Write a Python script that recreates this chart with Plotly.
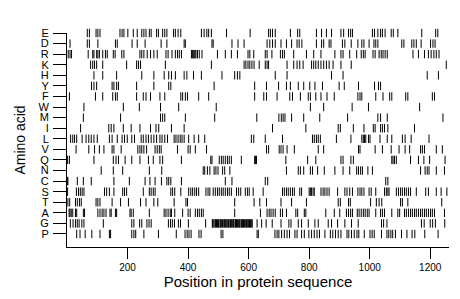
import plotly.graph_objects as go

# Amino acids, top to bottom as shown
amino_acids = ["E", "D", "R", "K", "H", "Y", "F", "W", "M", "I",
               "L", "V", "Q", "N", "C", "S", "T", "A", "G", "P"]

pos_E = [67, 74, 96, 102, 109, 175, 182, 188, 201, 219, 232, 247, 254, 261, 272, 278, 296, 302, 316, 323, 330,
         352, 358, 367, 376, 444, 453, 462, 468, 477, 527, 605, 666, 672, 679, 688, 738, 762, 769, 824, 841, 857,
         874, 905, 914, 930, 937, 943, 1009, 1016, 1027, 1036, 1042, 1051, 1071, 1078, 1093, 1172, 1218, 1225]
pos_D = [10, 67, 74, 102, 160, 166, 215, 232, 258, 311, 330, 387, 391, 479, 483, 545, 565, 585, 661, 670, 679,
         688, 707, 725, 742, 760, 767, 776, 824, 841, 848, 866, 872, 910, 918, 939, 961, 974, 981, 998, 1014,
         1020, 1027, 1106, 1113, 1139, 1146, 1154, 1170, 1201, 1209, 1216]
pos_R = [4, 10, 15, 70, 85, 89, 98, 102, 107, 118, 127, 133, 153, 159, 181, 188, 241, 247, 254, 265, 276, 287,
         298, 327, 334, 347, 358, 365, 371, 378, 411, 414, 417, 420, 423, 426, 431, 437, 446, 497, 523, 543, 563,
         598, 604, 617, 655, 661, 677, 705, 712, 718, 749, 791, 815, 839, 885, 905, 912, 934, 957, 972, 979, 985,
         1011, 1018, 1031, 1038, 1044, 1051, 1058, 1143, 1161, 1181, 1194, 1203, 1212, 1220, 1229]
pos_K = [78, 85, 91, 98, 118, 197, 230, 236, 243, 325, 477, 585, 591, 598, 604, 611, 618, 635, 655, 661, 666,
         727, 749, 760, 769, 780, 808, 815, 822, 830, 839, 848, 857, 866, 879, 905, 939, 1253]
pos_H = [89, 118, 164, 247, 287, 321, 336, 345, 358, 387, 396, 418, 444, 512, 554, 563, 571, 688, 727, 874, 912,
         1190, 1227]
pos_Y = [81, 89, 98, 149, 155, 164, 170, 230, 287, 336, 343, 486, 620, 659, 699, 725, 738, 764, 782, 802, 819,
         844, 899, 916, 963, 1016, 1029, 1036]
pos_F = [8, 94, 118, 151, 160, 166, 230, 252, 261, 276, 307, 323, 376, 382, 391, 398, 435, 468, 620, 650, 659,
         694, 736, 745, 771, 797, 804, 822, 839, 859, 883, 961, 968, 974, 1020, 1044, 1066, 1073, 1119, 1126,
         1207, 1214]
pos_W = [56, 186, 239, 309, 369, 493, 804, 848, 942, 996, 1165]
pos_M = [54, 177, 309, 316, 323, 391, 488, 627, 700, 708, 714, 720, 742, 782, 835, 927, 1027, 1036, 1058, 1242]
pos_I = [45, 138, 146, 155, 186, 212, 241, 276, 294, 303, 345, 387, 679, 789, 896, 903, 946, 981, 1012, 1018,
         1036, 1042, 1049, 1060, 1148]
pos_L = [12, 19, 25, 32, 50, 63, 72, 80, 89, 100, 140, 149, 166, 182, 190, 199, 214, 223, 245, 252, 261, 269,
         278, 287, 296, 307, 314, 323, 332, 354, 360, 367, 374, 380, 387, 402, 420, 435, 455, 609, 617, 655, 712,
         811, 817, 824, 830, 837, 890, 938, 974, 979, 983, 987, 996, 1001, 1034, 1058, 1073, 1108, 1117, 1137,
         1196]
pos_V = [30, 72, 91, 107, 122, 149, 155, 179, 234, 241, 247, 254, 263, 291, 298, 305, 311, 365, 400, 407, 424,
         461, 659, 666, 701, 707, 714, 727, 751, 830, 848, 963, 968, 1018, 1042, 1071, 1097, 1117, 1132, 1168,
         1174, 1181, 1220, 1240]
pos_Q = [2, 8, 89, 153, 162, 170, 192, 214, 241, 269, 285, 307, 316, 378, 475, 479, 503, 510, 516, 523, 530,
         536, 543, 576, 620, 623, 626, 723, 795, 822, 905, 912, 938, 946, 1073, 1077, 1082, 1088, 1135, 1161,
         1179, 1198, 1249]
pos_N = [113, 153, 184, 272, 313, 450, 455, 464, 472, 486, 492, 499, 514, 521, 538, 725, 764, 771, 782, 804,
         811, 828, 850, 885, 912, 934, 957, 963, 970, 976, 994, 1009, 1168, 1183, 1190, 1196, 1220, 1247]
pos_C = [1, 3, 34, 54, 80, 155, 206, 258, 274, 291, 312, 330, 336, 343, 378, 523, 545, 655, 663, 1053, 1060]
pos_S = [2, 31, 38, 44, 50, 56, 124, 131, 140, 155, 184, 190, 197, 252, 272, 278, 285, 291, 343, 349, 356, 376,
         402, 409, 415, 422, 428, 435, 459, 466, 472, 483, 490, 497, 503, 510, 516, 523, 530, 536, 543, 560, 567,
         574, 589, 596, 602, 615, 648, 712, 718, 725, 731, 738, 745, 751, 769, 775, 800, 804, 808, 813, 817, 839,
         846, 852, 859, 866, 894, 918, 925, 934, 943, 961, 968, 974, 981, 998, 1005, 1020, 1049, 1055, 1060, 1064,
         1088, 1095, 1102, 1108, 1115, 1121, 1128, 1135, 1154, 1185, 1194, 1220, 1236, 1255]
pos_T = [3, 9, 28, 34, 41, 47, 96, 102, 109, 149, 177, 203, 243, 261, 287, 300, 354, 393, 398, 554, 618, 637,
         659, 707, 742, 791, 896, 903, 930, 936, 1003, 1022, 1031, 1040, 1102, 1108, 1126, 1238]
pos_A = [7, 10, 14, 19, 28, 32, 54, 58, 102, 109, 116, 122, 129, 142, 146, 160, 164, 208, 212, 219, 272, 321,
         327, 334, 341, 345, 356, 382, 400, 407, 424, 431, 437, 444, 450, 554, 639, 661, 668, 674, 681, 688, 705,
         712, 725, 756, 762, 784, 789, 855, 883, 901, 923, 930, 937, 943, 959, 965, 972, 979, 985, 992, 998, 1020,
         1036, 1042, 1049, 1073, 1093, 1099, 1115, 1121, 1128, 1135, 1141, 1148, 1154, 1161, 1168, 1174, 1181,
         1187, 1194, 1201, 1207, 1214, 1247]
pos_G = [11, 20, 28, 34, 40, 49, 56, 120, 214, 221, 240, 247, 264, 271, 278, 335, 342, 348, 355, 368, 375, 401,
         458, 480, 482, 485, 489, 491, 494, 497, 500, 502, 506, 508, 511, 514, 518, 520, 523, 526, 529, 532, 534,
         538, 540, 543, 546, 549, 551, 555, 557, 560, 563, 566, 569, 571, 575, 577, 580, 583, 586, 589, 592, 594,
         597, 600, 603, 606, 609, 612, 628, 643, 658, 678, 707, 733, 740, 764, 775, 797, 819, 830, 863, 874, 894,
         918, 940, 962, 1039, 1046, 1057, 1171, 1180, 1200, 1208, 1217, 1248]
pos_P = [32, 43, 60, 82, 109, 140, 144, 214, 221, 227, 254, 302, 361, 390, 397, 403, 410, 436, 443, 509, 515,
         628, 632, 687, 694, 700, 709, 718, 727, 735, 753, 760, 775, 784, 799, 808, 817, 826, 834, 852, 870, 878,
         887, 896, 905, 925, 931, 940, 949, 958, 964, 982, 1001, 1008, 1015, 1039, 1057, 1063, 1070, 1076, 1085,
         1105, 1123, 1140, 1149, 1182, 1226]

positions = {
    "E": pos_E, "D": pos_D, "R": pos_R, "K": pos_K, "H": pos_H, "Y": pos_Y, "F": pos_F,
    "W": pos_W, "M": pos_M, "I": pos_I, "L": pos_L, "V": pos_V, "Q": pos_Q, "N": pos_N,
    "C": pos_C, "S": pos_S, "T": pos_T, "A": pos_A, "G": pos_G, "P": pos_P,
}

x_ticks = [200, 400, 600, 800, 1000, 1200]

n = len(amino_acids)
xs, ys = [], []
for i, aa in enumerate(amino_acids):
    row = n - 1 - i
    for p in positions[aa]:
        xs.append(p)
        ys.append(row)

FONT = "Liberation Sans, Arial, Helvetica, sans-serif"

fig = go.Figure()
fig.add_trace(go.Scatter(
    x=xs, y=ys, mode="markers",
    marker=dict(symbol="line-ns", size=6, line=dict(color="black", width=1)),
    cliponaxis=False, hoverinfo="skip", showlegend=False,
))

fig.update_layout(
    width=460, height=299, autosize=False,
    margin=dict(l=59, r=19, t=25, b=60, pad=0),
    paper_bgcolor="white", plot_bgcolor="white",
    font=dict(family=FONT, color="black"),
    xaxis=dict(
        range=[0, 1262], tickmode="array", tickvals=x_ticks,
        ticks="outside", ticklen=11, tickwidth=1, tickcolor="black",
        showline=True, linecolor="black", linewidth=1,
        showgrid=False, zeroline=False,
        tickfont=dict(size=10, family=FONT),
        title=dict(text="Position in protein sequence", font=dict(size=15, family=FONT), standoff=4),
    ),
    yaxis=dict(
        range=[-1.23, 19], tickmode="array",
        tickvals=list(range(n)), ticktext=list(reversed(amino_acids)),
        ticks="outside", ticklen=13, tickwidth=1, tickcolor="black",
        ticklabelstandoff=2,
        showline=True, linecolor="black", linewidth=1,
        showgrid=False, zeroline=False,
        tickfont=dict(size=11, family=FONT),
        title=dict(text="Amino acid", font=dict(size=14, family=FONT), standoff=9),
    ),
)

fig.write_html("out.html")
